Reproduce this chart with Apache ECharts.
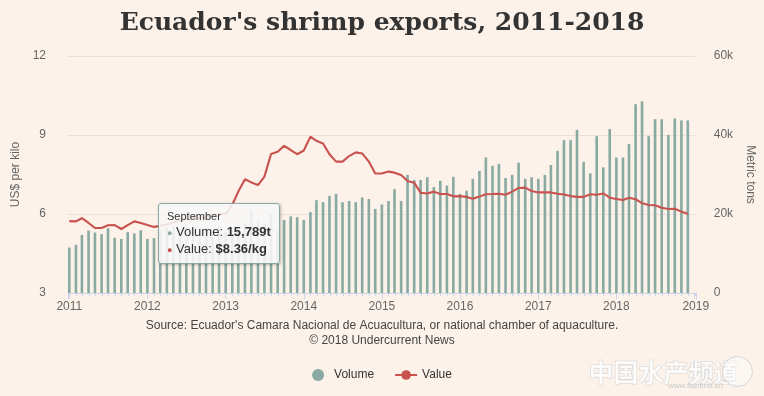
<!DOCTYPE html>
<html>
<head>
<meta charset="utf-8">
<script src="https://cdn.jsdelivr.net/npm/echarts@6/dist/echarts.min.js"></script>
<style>
  html, body { margin: 0; padding: 0; background: #fcf2e9; }
  #chart { width: 764px; height: 396px; }
</style>
</head>
<body>
<div id="chart"></div>
<script>
// monthly data, Jan 2011 - Dec 2018
const years = [2011, 2012, 2013, 2014, 2015, 2016, 2017, 2018];
const monthNames = ["January", "February", "March", "April", "May", "June",
  "July", "August", "September", "October", "November", "December"];

// volume, thousand metric tons
const volume = [
  11.5, 12.2, 14.7, 15.8, 15.3, 14.9, 16.4, 14.0, 13.7, 15.4, 15.1, 15.9,
  13.7, 13.9, 15.5, 16.5, 17.0, 16.0, 16.5, 15.5, 15.0, 16.5, 16.0, 17.0,
  15.5, 14.5, 16.5, 17.5, 21.0, 18.5, 17.5, 20.0, 15.789, 18.5, 19.4, 19.2,
  18.5, 20.5, 23.5, 23.0, 24.6, 25.1, 23.0, 23.3, 23.0, 24.2, 23.8, 21.3,
  22.4, 23.3, 26.3, 23.3, 29.9, 28.6, 28.6, 29.3, 26.8, 28.4, 27.2, 29.4,
  25.1, 25.9, 28.9, 30.9, 34.3, 32.2, 32.7, 29.1, 29.9, 33.0, 28.9, 29.3,
  28.9, 29.9, 32.4, 36.0, 38.7, 38.7, 41.3, 33.2, 30.3, 39.7, 31.8, 41.5,
  34.3, 34.3, 37.7, 47.8, 48.5, 39.7, 44.0, 44.0, 40.0, 44.2, 43.7, 43.7
];

// value, US$ per kilo
const value = [
  5.73, 5.72, 5.84, 5.66, 5.47, 5.47, 5.57, 5.58, 5.43, 5.58, 5.72, 5.66,
  5.58, 5.51, 5.55, 5.60, 5.68, 5.75, 5.80, 5.85, 5.85, 5.90, 5.95, 6.00,
  6.00, 6.35, 6.85, 7.32, 7.20, 7.10, 7.42, 8.28, 8.36, 8.59, 8.43, 8.27,
  8.41, 8.94, 8.78, 8.68, 8.27, 7.99, 7.99, 8.20, 8.34, 8.30, 7.99, 7.54,
  7.54, 7.61, 7.57, 7.48, 7.25, 7.19, 6.81, 6.78, 6.85, 6.76, 6.76, 6.67,
  6.68, 6.65, 6.58, 6.66, 6.75, 6.76, 6.77, 6.73, 6.85, 6.99, 7.00, 6.87,
  6.82, 6.82, 6.82, 6.77, 6.74, 6.68, 6.65, 6.65, 6.75, 6.73, 6.78, 6.62,
  6.57, 6.53, 6.62, 6.56, 6.41, 6.34, 6.33, 6.24, 6.19, 6.20, 6.09, 6.01
];

const tipIndex = 32; // September 2013

const months = [];
years.forEach(function (y) {
  for (let m = 0; m < 12; m++) months.push(Date.UTC(y, m, 1));
});
const xMin = Date.UTC(2011, 0, 1);
const xMax = Date.UTC(2019, 0, 1);

const barColor = "#88aaa2";
const lineColor = "#c9524e";
const font = "Liberation Sans";

const chart = echarts.init(document.getElementById("chart"));
const option = {
  animation: false,
  useUTC: true,
  backgroundColor: "#fcf2e9",
  textStyle: { fontFamily: font },
  title: {
    text: "Ecuador's shrimp exports, 2011-2018",
    left: "center",
    top: 6,
    textStyle: {
      fontFamily: "DejaVu Serif",
      fontWeight: "bold",
      fontSize: 25,
      color: "#333333",
    },
  },
  grid: { left: 68, right: 66, top: 56, bottom: 103 },
  legend: {
    top: 364,
    left: "center",
    itemGap: 20,
    itemWidth: 22,
    itemHeight: 12,
    textStyle: { fontSize: 12, color: "#333333", fontFamily: font },
    data: [{ name: "Volume", icon: "circle" }, { name: "Value" }],
  },
  tooltip: {
    trigger: "item",
    triggerOn: "none",
    alwaysShowContent: true,
    transitionDuration: 0,
    position: [158, 203],
    backgroundColor: "rgba(247,247,247,0.88)",
    borderColor: "#8aa9a3",
    borderWidth: 1,
    padding: [5, 8],
    extraCssText: "box-shadow:1px 1px 3px rgba(0,0,0,0.25);border-radius:3px;",
    formatter: function (p) {
      const i = p.dataIndex;
      const rows = [
        ["Volume", barColor, Math.round(volume[i] * 1000).toLocaleString("en-US") + "t"],
        ["Value", lineColor, "$" + value[i].toFixed(2) + "/kg"],
      ];
      let html = '<div style="font-size:11px;color:#333;line-height:15px;font-family:Liberation Sans">' +
        monthNames[i % 12] + "</div>";
      rows.forEach(function (r) {
        html += '<div style="font-size:13px;color:#333;line-height:16px;font-family:Liberation Sans">' +
          '<span style="color:' + r[1] + ';font-size:9px">\u25CF</span> ' +
          r[0] + ": <b>" + r[2] + "</b></div>";
      });
      return html;
    },
  },
  xAxis: {
    type: "time",
    min: xMin,
    max: xMax,
    splitNumber: 8,
    minInterval: 365 * 86400000,
    maxInterval: 366 * 86400000,
    axisLine: { lineStyle: { color: "#ccd6eb" } },
    axisTick: { show: true, length: 6, lineStyle: { color: "#ccd6eb" } },
    minorTick: { show: true, splitNumber: 12, length: 3, lineStyle: { color: "#ccd6eb" } },
    splitLine: { show: false },
    axisLabel: {
      formatter: function (v) {
        return v < xMin ? "" : String(new Date(v + 86400000).getUTCFullYear());
      },
      color: "#666666",
      fontSize: 12,
      margin: 8,
      showMinLabel: true,
      showMaxLabel: true,
    },
  },
  yAxis: [
    {
      type: "value",
      min: 3,
      max: 12,
      interval: 3,
      name: "US$ per kilo",
      nameLocation: "middle",
      nameGap: 44,
      nameTextStyle: { color: "#666666", fontSize: 12 },
      axisLabel: { color: "#666666", fontSize: 12, margin: 22 },
      splitLine: { lineStyle: { color: "#ece1d7" } },
    },
    {
      type: "value",
      min: 0,
      max: 60,
      interval: 20,
      name: "Metric tons",
      nameLocation: "middle",
      nameGap: 48,
      nameRotate: -90,
      nameTextStyle: { color: "#666666", fontSize: 12 },
      axisLabel: {
        color: "#666666",
        fontSize: 12,
        margin: 18,
        formatter: function (v) { return v === 0 ? "0" : v + "k"; },
      },
      splitLine: { show: false },
    },
  ],
  series: [
    {
      name: "Volume",
      type: "bar",
      yAxisIndex: 1,
      barWidth: 2.6,
      itemStyle: { color: barColor },
      emphasis: { disabled: true },
      data: months.map(function (t, i) { return [t, volume[i]]; }),
    },
    {
      name: "Value",
      type: "line",
      yAxisIndex: 0,
      symbol: "circle",
      symbolSize: 7,
      showSymbol: false,
      lineStyle: { width: 2.1, color: lineColor },
      itemStyle: { color: lineColor },
      emphasis: { disabled: true },
      z: 3,
      data: months.map(function (t, i) { return [t, value[i]]; }),
    },
  ],
  graphic: [
    {
      type: "text",
      left: "center",
      top: 318,
      style: {
        text: "Source: Ecuador's Camara Nacional de Acuacultura, or national chamber of aquaculture.\n\u00A9 2018 Undercurrent News",
        textAlign: "center",
        fill: "#444444",
        font: "12px Liberation Sans",
        lineHeight: 15,
      },
    },
    {
      type: "text",
      left: 588,
      top: 359,
      style: {
        text: "中国水产频道",
        fill: "rgba(255,255,255,0.8)",
        stroke: "#d3d3d3",
        lineWidth: 1,
        font: "bold 25px 'Noto Sans CJK SC'",
      },
    },
    {
      type: "text",
      left: 668,
      top: 382,
      style: { text: "www.fishfirst.cn", fill: "#c8c8c8", font: "8px Liberation Sans" },
    },
    {
      type: "circle",
      left: 722,
      top: 356,
      shape: { r: 15 },
      style: { fill: "rgba(255,255,255,0.4)", stroke: "#d6d6d6", lineWidth: 1 },
    },
  ],
};
chart.setOption(option);
chart.dispatchAction({ type: "showTip", seriesIndex: 0, dataIndex: tipIndex });
</script>
</body>
</html>
